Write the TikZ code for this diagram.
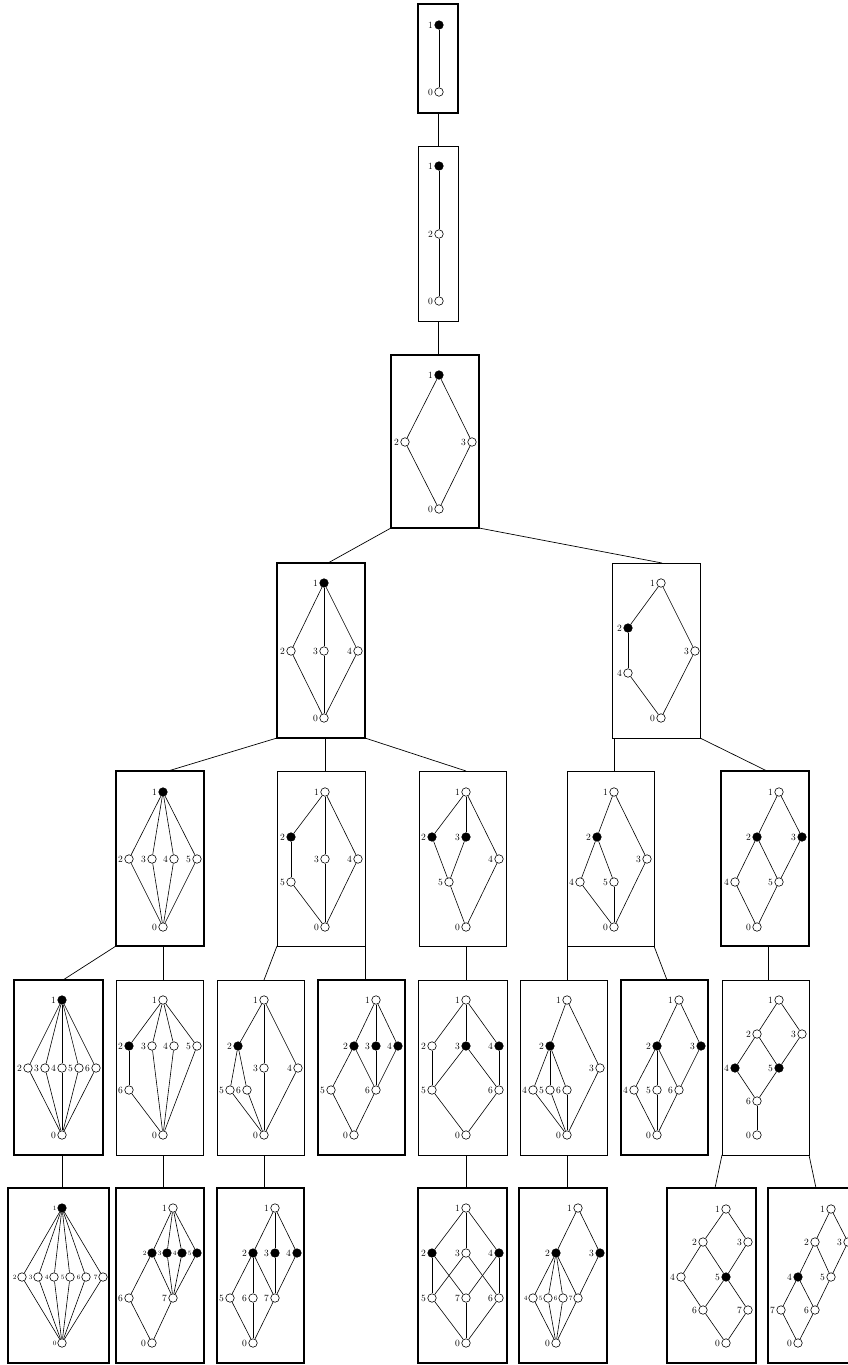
\documentclass[tikz,border=0pt]{standalone}
\usetikzlibrary{positioning}
\begin{document}
\tikzset{
  lab/.style={inner sep=1.3pt,font=\fontsize{9.5}{10}\selectfont},
  slab/.style={inner sep=0.8pt,font=\fontsize{6.5}{7}\selectfont},
  vtx/.style={circle,draw,line width=0.6pt,minimum size=8.5pt,inner sep=0pt},
  wv/.style={vtx,fill=white,label={[lab]left:#1}},
  bv/.style={vtx,fill=black,label={[lab]left:#1}},
  swv/.style={vtx,fill=white,label={[slab]left:#1}},
  sbv/.style={vtx,fill=black,label={[slab]left:#1}},
  hedge/.style={line width=0.6pt},
  conn/.style={line width=0.7pt},
  thinbox/.style={draw,rectangle,line width=0.8pt,inner sep=0pt,outer sep=0pt,minimum width=88pt,minimum height=175pt},
  thickbox/.style={thinbox,line width=2.8pt},
}
\newcommand\hedges[2]{\foreach \p/\q in {#2}{\draw[hedge] (#1-\p) -- (#1-\q);}}
\begin{tikzpicture}[x=1pt,y=-1pt]
\useasboundingbox (0,0) rectangle (848,1365);
% ---------- boxes ----------
\node[thickbox,minimum width=40pt,minimum height=109pt] (Ba) at (438,58.5) {};
\node[thinbox,minimum width=40pt] (Bb) at (438,233.5) {};
\node[thickbox,minimum height=173pt] (Bc) at (435,441.5) {};
\node[thickbox] (Bd) at (321,650.5) {};
\node[thinbox] (Be) at (656,650.5) {};
\node[thickbox] (Bf) at (160,858.5) {};
\node[thinbox] (Bg) at (321,858.5) {};
\node[thinbox,minimum width=87pt] (Bh) at (462.5,858.5) {};
\node[thinbox,minimum width=87pt] (Bi) at (610.5,858.5) {};
\node[thickbox] (Bj) at (765,858.5) {};
\node[thickbox,minimum width=89pt] (Bk) at (58.5,1067.5) {};
\node[thinbox,minimum width=87pt] (Bl) at (159.5,1067.5) {};
\node[thinbox,minimum width=87pt] (Bm) at (260.5,1067.5) {};
\node[thickbox,minimum width=87pt] (Bn) at (361.5,1067.5) {};
\node[thinbox,minimum width=89pt] (Bo) at (462.5,1067.5) {};
\node[thinbox,minimum width=87pt] (Bp) at (563.5,1067.5) {};
\node[thickbox,minimum width=87pt] (Bq) at (664.5,1067.5) {};
\node[thinbox,minimum width=87pt] (Br) at (765.5,1067.5) {};
\node[thickbox,minimum width=101pt] (Bs) at (58.5,1275.5) {};
\node[thickbox] (Bt) at (160,1275.5) {};
\node[thickbox,minimum width=87pt] (Bu) at (260.5,1275.5) {};
\node[thickbox,minimum width=89pt] (Bv) at (462.5,1275.5) {};
\node[thickbox] (Bw) at (563,1275.5) {};
\node[thickbox,minimum width=89pt] (Bx) at (711.5,1275.5) {};
\node[thickbox,minimum width=89pt] (By) at (812.5,1275.5) {};
% ---------- connectors ----------
\draw[conn] (Ba.south) -- (Bb.north);
\draw[conn] (Bb.south) -- ([xshift=3pt]Bc.north);
\draw[conn] (Bc.south west) -- ([xshift=7pt]Bd.north);
\draw[conn] (Bc.south east) -- ([xshift=6pt]Be.north);
\draw[conn] (Bd.south west) -- ([xshift=8pt]Bf.north);
\draw[conn] ([xshift=4pt]Bd.south) -- ([xshift=4pt]Bg.north);
\draw[conn] (Bd.south east) -- ([xshift=3.5pt]Bh.north);
\draw[conn] ([xshift=2pt]Be.south west) -- ([xshift=3.5pt]Bi.north);
\draw[conn] (Be.south east) -- ([xshift=2pt]Bj.north);
\draw[conn] (Bf.south west) -- ([xshift=4.5pt]Bk.north);
\draw[conn] ([xshift=3pt]Bf.south) -- ([xshift=3.5pt]Bl.north);
\draw[conn] (Bg.south west) -- ([xshift=3.5pt]Bm.north);
\draw[conn] (Bg.south east) -- ([xshift=3.5pt]Bn.north);
\draw[conn] ([xshift=3.5pt]Bh.south) -- ([xshift=3.5pt]Bo.north);
\draw[conn] (Bi.south west) -- ([xshift=3.5pt]Bp.north);
\draw[conn] (Bi.south east) -- ([xshift=2.5pt]Bq.north);
\draw[conn] ([xshift=3pt]Bj.south) -- ([xshift=2.5pt]Br.north);
\draw[conn] ([xshift=3.5pt]Bk.south) -- ([xshift=3.5pt]Bs.north);
\draw[conn] ([xshift=3.5pt]Bl.south) -- ([xshift=3pt]Bt.north);
\draw[conn] ([xshift=3.5pt]Bm.south) -- ([xshift=3.5pt]Bu.north);
\draw[conn] ([xshift=3.5pt]Bo.south) -- ([xshift=3.5pt]Bv.north);
\draw[conn] ([xshift=3.5pt]Bp.south) -- ([xshift=4pt]Bw.north);
\draw[conn] (Br.south west) -- ([xshift=3.5pt]Bx.north);
\draw[conn] (Br.south east) -- ([xshift=3.5pt]By.north);
% ---------- R1 ----------
\node[bv=1] (a-1) at (439,25) {};
\node[wv=0] (a-0) at (439,92) {};
\hedges{a}{1/0}
% ---------- R2 ----------
\node[bv=1] (b-1) at (439,166) {};
\node[wv=2] (b-2) at (439,234) {};
\node[wv=0] (b-0) at (439,301) {};
\hedges{b}{1/2,2/0}
% ---------- R3 ----------
\node[bv=1] (c-1) at (439,375) {};
\node[wv=2] (c-2) at (405,442) {};
\node[wv=3] (c-3) at (472,442) {};
\node[wv=0] (c-0) at (439,509) {};
\hedges{c}{1/2,1/3,2/0,3/0}
% ---------- R4 left ----------
\node[bv=1] (d-1) at (324,583) {};
\node[wv=2] (d-2) at (291,651) {};
\node[wv=3] (d-3) at (324,651) {};
\node[wv=4] (d-4) at (358,651) {};
\node[wv=0] (d-0) at (324,718) {};
\hedges{d}{1/2,1/3,1/4,2/0,3/0,4/0}
% ---------- R4 right ----------
\node[wv=1] (e-1) at (661,583) {};
\node[bv=2] (e-2) at (628,628) {};
\node[wv=3] (e-3) at (695,651) {};
\node[wv=4] (e-4) at (628,673) {};
\node[wv=0] (e-0) at (661,718) {};
\hedges{e}{1/2,1/3,2/4,4/0,3/0}
% ---------- R5 ----------
\node[bv=1] (f-1) at (163,792) {};
\node[wv=2] (f-2) at (129,859) {};
\node[wv=3] (f-3) at (152,859) {};
\node[wv=4] (f-4) at (174,859) {};
\node[wv=5] (f-5) at (197,859) {};
\node[wv=0] (f-0) at (163,927) {};
\hedges{f}{1/2,1/3,1/4,1/5,2/0,3/0,4/0,5/0}
\node[wv=1] (g-1) at (325,792) {};
\node[bv=2] (g-2) at (291,837) {};
\node[wv=3] (g-3) at (325,859) {};
\node[wv=4] (g-4) at (358,859) {};
\node[wv=5] (g-5) at (291,882) {};
\node[wv=0] (g-0) at (325,927) {};
\hedges{g}{1/2,1/3,1/4,2/5,5/0,3/0,4/0}
\node[wv=1] (h-1) at (466,792) {};
\node[bv=2] (h-2) at (432,837) {};
\node[bv=3] (h-3) at (466,837) {};
\node[wv=4] (h-4) at (499,859) {};
\node[wv=5] (h-5) at (449,882) {};
\node[wv=0] (h-0) at (466,927) {};
\hedges{h}{1/2,1/3,1/4,2/5,3/5,5/0,4/0}
\node[wv=1] (i-1) at (614,792) {};
\node[bv=2] (i-2) at (597,837) {};
\node[wv=3] (i-3) at (647,859) {};
\node[wv=4] (i-4) at (580,882) {};
\node[wv=5] (i-5) at (614,882) {};
\node[wv=0] (i-0) at (614,927) {};
\hedges{i}{1/2,1/3,2/4,2/5,4/0,5/0,3/0}
\node[wv=1] (j-1) at (779,792) {};
\node[bv=2] (j-2) at (757,837) {};
\node[bv=3] (j-3) at (802,837) {};
\node[wv=4] (j-4) at (735,882) {};
\node[wv=5] (j-5) at (779,882) {};
\node[wv=0] (j-0) at (757,927) {};
\hedges{j}{1/2,1/3,2/4,2/5,3/5,4/0,5/0}
% ---------- R6 ----------
\node[bv=1] (k-1) at (62,1000) {};
\node[wv=2] (k-2) at (28,1068) {};
\node[wv=3] (k-3) at (45,1068) {};
\node[wv=4] (k-4) at (62,1068) {};
\node[wv=5] (k-5) at (79,1068) {};
\node[wv=6] (k-6) at (96,1068) {};
\node[wv=0] (k-0) at (62,1135) {};
\hedges{k}{1/2,1/3,1/4,1/5,1/6,2/0,3/0,4/0,5/0,6/0}
\node[wv=1] (l-1) at (163,1000) {};
\node[bv=2] (l-2) at (129,1046) {};
\node[wv=3] (l-3) at (152,1046) {};
\node[wv=4] (l-4) at (174,1046) {};
\node[wv=5] (l-5) at (197,1046) {};
\node[wv=6] (l-6) at (129,1090) {};
\node[wv=0] (l-0) at (163,1135) {};
\hedges{l}{1/2,1/3,1/4,1/5,2/6,6/0,3/0,4/0,5/0}
\node[wv=1] (m-1) at (264,1000) {};
\node[bv=2] (m-2) at (238,1046) {};
\node[wv=3] (m-3) at (264,1068) {};
\node[wv=4] (m-4) at (298,1068) {};
\node[wv=5] (m-5) at (230,1090) {};
\node[wv=6] (m-6) at (247,1090) {};
\node[wv=0] (m-0) at (264,1135) {};
\hedges{m}{1/2,1/3,1/4,2/5,2/6,5/0,6/0,3/0,4/0}
\node[wv=1] (n-1) at (376,1000) {};
\node[bv=2] (n-2) at (354,1046) {};
\node[bv=3] (n-3) at (376,1046) {};
\node[bv=4] (n-4) at (398,1046) {};
\node[wv=5] (n-5) at (331,1090) {};
\node[wv=6] (n-6) at (376,1090) {};
\node[wv=0] (n-0) at (354,1135) {};
\hedges{n}{1/2,1/3,1/4,2/5,2/6,3/6,4/6,5/0,6/0}
\node[wv=1] (o-1) at (466,1000) {};
\node[wv=2] (o-2) at (432,1046) {};
\node[bv=3] (o-3) at (466,1046) {};
\node[bv=4] (o-4) at (499,1046) {};
\node[wv=5] (o-5) at (432,1090) {};
\node[wv=6] (o-6) at (499,1090) {};
\node[wv=0] (o-0) at (466,1135) {};
\hedges{o}{1/2,1/3,1/4,2/5,3/5,3/6,4/6,5/0,6/0}
\node[wv=1] (p-1) at (567,1000) {};
\node[bv=2] (p-2) at (550,1046) {};
\node[wv=3] (p-3) at (600,1068) {};
\node[wv=4] (p-4) at (533,1090) {};
\node[wv=5] (p-5) at (550,1090) {};
\node[wv=6] (p-6) at (567,1090) {};
\node[wv=0] (p-0) at (567,1135) {};
\hedges{p}{1/2,1/3,2/4,2/5,2/6,4/0,5/0,6/0,3/0}
\node[wv=1] (q-1) at (679,1000) {};
\node[bv=2] (q-2) at (657,1046) {};
\node[bv=3] (q-3) at (701,1046) {};
\node[wv=4] (q-4) at (634,1090) {};
\node[wv=5] (q-5) at (657,1090) {};
\node[wv=6] (q-6) at (679,1090) {};
\node[wv=0] (q-0) at (657,1135) {};
\hedges{q}{1/2,1/3,2/4,2/5,2/6,3/6,4/0,5/0,6/0}
\node[wv=1] (r-1) at (779,1000) {};
\node[wv=2] (r-2) at (757,1034) {};
\node[wv=3] (r-3) at (802,1034) {};
\node[bv=4] (r-4) at (735,1068) {};
\node[bv=5] (r-5) at (779,1068) {};
\node[wv=6] (r-6) at (757,1101) {};
\node[wv=0] (r-0) at (757,1135) {};
\hedges{r}{1/2,1/3,2/4,2/5,3/5,4/6,5/6,6/0}
% ---------- R7 ----------
\node[sbv=1] (s-1) at (62,1208) {};
\node[swv=2] (s-2) at (22,1277) {};
\node[swv=3] (s-3) at (38,1277) {};
\node[swv=4] (s-4) at (54,1277) {};
\node[swv=5] (s-5) at (70,1277) {};
\node[swv=6] (s-6) at (86,1277) {};
\node[swv=7] (s-7) at (103,1277) {};
\node[swv=0] (s-0) at (62,1343) {};
\hedges{s}{1/2,1/3,1/4,1/5,1/6,1/7,2/0,3/0,4/0,5/0,6/0,7/0}
\node[wv=1] (t-1) at (173,1208) {};
\node[sbv=2] (t-2) at (152,1253) {};
\node[sbv=3] (t-3) at (167,1253) {};
\node[sbv=4] (t-4) at (182,1253) {};
\node[sbv=5] (t-5) at (197,1253) {};
\node[wv=6] (t-6) at (129,1298) {};
\node[wv=7] (t-7) at (173,1298) {};
\node[wv=0] (t-0) at (152,1343) {};
\hedges{t}{1/2,1/3,1/4,1/5,2/6,2/7,3/7,4/7,5/7,6/0,7/0}
\node[wv=1] (u-1) at (275,1208) {};
\node[bv=2] (u-2) at (253,1253) {};
\node[bv=3] (u-3) at (275,1253) {};
\node[bv=4] (u-4) at (297,1253) {};
\node[wv=5] (u-5) at (230,1298) {};
\node[wv=6] (u-6) at (253,1298) {};
\node[wv=7] (u-7) at (275,1298) {};
\node[wv=0] (u-0) at (253,1343) {};
\hedges{u}{1/2,1/3,1/4,2/5,2/6,2/7,3/7,4/7,5/0,6/0,7/0}
\node[wv=1] (v-1) at (466,1208) {};
\node[bv=2] (v-2) at (432,1253) {};
\node[wv=3] (v-3) at (466,1253) {};
\node[bv=4] (v-4) at (499,1253) {};
\node[wv=5] (v-5) at (432,1298) {};
\node[wv=7] (v-7) at (466,1298) {};
\node[wv=6] (v-6) at (499,1298) {};
\node[wv=0] (v-0) at (466,1343) {};
\hedges{v}{1/2,1/3,1/4,2/5,2/7,3/5,3/6,4/6,4/7,5/0,7/0,6/0}
\node[wv=1] (w-1) at (578,1208) {};
\node[bv=2] (w-2) at (556,1253) {};
\node[bv=3] (w-3) at (600,1253) {};
\node[swv=4] (w-4) at (533,1298) {};
\node[swv=5] (w-5) at (548,1298) {};
\node[swv=6] (w-6) at (563,1298) {};
\node[swv=7] (w-7) at (578,1298) {};
\node[wv=0] (w-0) at (556,1343) {};
\hedges{w}{1/2,1/3,2/4,2/5,2/6,2/7,3/7,4/0,5/0,6/0,7/0}
\node[wv=1] (x-1) at (726,1209) {};
\node[wv=2] (x-2) at (703,1242) {};
\node[wv=3] (x-3) at (748,1242) {};
\node[wv=4] (x-4) at (681,1277) {};
\node[bv=5] (x-5) at (726,1277) {};
\node[wv=6] (x-6) at (703,1310) {};
\node[wv=7] (x-7) at (748,1310) {};
\node[wv=0] (x-0) at (726,1343) {};
\hedges{x}{1/2,1/3,2/4,2/5,3/5,4/6,5/6,5/7,6/0,7/0}
\node[wv=1] (y-1) at (831,1209) {};
\node[wv=2] (y-2) at (815,1242) {};
\node[wv=3] (y-3) at (848,1242) {};
\node[bv=4] (y-4) at (798,1277) {};
\node[wv=5] (y-5) at (831,1277) {};
\node[wv=7] (y-7) at (781,1310) {};
\node[wv=6] (y-6) at (815,1310) {};
\node[wv=0] (y-0) at (798,1343) {};
\hedges{y}{1/2,1/3,2/4,2/5,3/5,4/7,4/6,5/6,7/0,6/0}
\end{tikzpicture}
\end{document}
